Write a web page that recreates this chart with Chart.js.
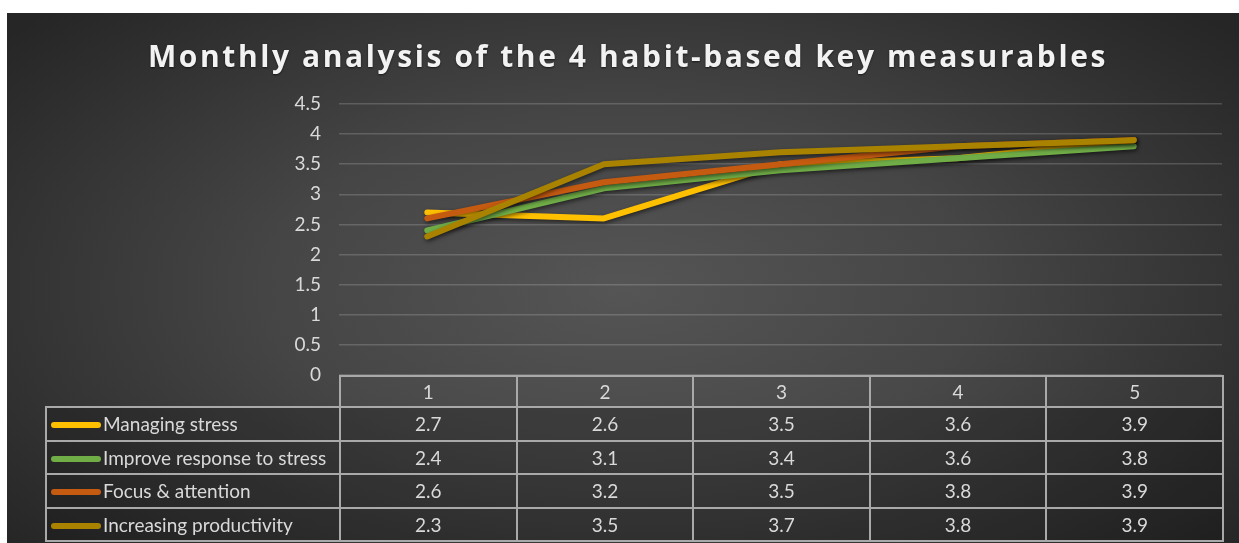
<!DOCTYPE html>
<html>
<head>
<meta charset="utf-8">
<script src="https://cdn.jsdelivr.net/npm/chart.js@4"></script>
<style>
  html, body { margin: 0; padding: 0; background: #ffffff; }
  #page { position: relative; width: 1239px; height: 543px; overflow: hidden; background: #ffffff; }
  #panel {
    position: absolute; left: 7px; top: 13px; width: 1232px; height: 530px;
    background: radial-gradient(ellipse 65% 75% at 50% 52%, #555555 0%, #454545 45%, #2e2e2e 85%, #262626 100%);
  }
  #title {
    position: absolute; left: 0; top: 22px; width: 1242px; text-align: center;
    font-family: "Open Sans", Lato, sans-serif; font-weight: 700; font-size: 30px;
    letter-spacing: 2.6px; color: #f2f2f2; text-shadow: 0 1px 2px rgba(0,0,0,0.6);
  }
  #chart { position: absolute; left: 0; top: 0; }
  #dataTable {
    position: absolute; border-collapse: collapse; table-layout: fixed;
    font-family: Lato, "Open Sans", sans-serif; font-size: 19px; color: #d9d9d9;
  }
  #dataTable td { border: 2px solid #a9a9a9; text-align: center; padding: 0; white-space: nowrap; background: rgba(0,0,0,0.18); }
  #dataTable tr.head td { background: rgba(255,255,255,0.02); }
  #dataTable tr.head td.corner { border: none; background: transparent; }
  #dataTable td.name { text-align: left; padding-left: 4px; }
  .swatch { display: inline-block; width: 50px; height: 6px; border-radius: 3px; vertical-align: middle; margin-right: 2px; position: relative; top: -1px; }
</style>
</head>
<body>
<div id="page">
  <div id="panel">
    <canvas id="chart" width="1232" height="530"></canvas>
    <div id="title">Monthly analysis of the 4 habit-based key measurables</div>
    <table id="dataTable"></table>
  </div>
</div>
<script>
// categories (months) and series values
const months = ['1', '2', '3', '4', '5'];
const seriesNames = ['Managing stress', 'Improve response to stress', 'Focus & attention', 'Increasing productivity'];
const managingStress = [2.7, 2.6, 3.5, 3.6, 3.9];
const improveResponse = [2.4, 3.1, 3.4, 3.6, 3.8];
const focusAttention = [2.6, 3.2, 3.5, 3.8, 3.9];
const increasingProductivity = [2.3, 3.5, 3.7, 3.8, 3.9];
const seriesColors = ['#FFC000', '#70AD47', '#C55A11', '#A98300'];

const allValues = [managingStress, improveResponse, focusAttention, increasingProductivity];

// soft shadow under each line, like the office chart
const lineShadow = {
  id: 'lineShadow',
  beforeDatasetDraw(chart) {
    const ctx = chart.ctx;
    ctx.save();
    ctx.shadowColor = 'rgba(0,0,0,0.55)';
    ctx.shadowBlur = 4;
    ctx.shadowOffsetX = 1;
    ctx.shadowOffsetY = 2;
  },
  afterDatasetDraw(chart) {
    chart.ctx.restore();
  }
};

// build the data table under the plot, columns lined up with the x scale
function buildTable(chart) {
  const table = document.getElementById('dataTable');
  const area = chart.chartArea;
  const colW = (area.right - area.left) / months.length;
  const nameW = 294;
  table.style.left = (area.left - nameW) + 'px';
  table.style.top = area.bottom + 'px';
  table.style.width = (nameW + colW * months.length) + 'px';

  let html = '<colgroup><col style="width:' + nameW + 'px">';
  months.forEach(() => { html += '<col style="width:' + colW + 'px">'; });
  html += '</colgroup>';
  html += '<tr class="head" style="height:31px"><td class="corner"></td>';
  months.forEach(m => { html += '<td>' + m + '</td>'; });
  html += '</tr>';
  seriesNames.forEach((name, i) => {
    html += '<tr style="height:33.5px"><td class="name"><span class="swatch" style="background:' + seriesColors[i] + '"></span>' + name + '</td>';
    allValues[i].forEach(v => { html += '<td>' + v.toFixed(1) + '</td>'; });
    html += '</tr>';
  });
  table.innerHTML = html;
}

const tablePlugin = {
  id: 'tablePlugin',
  afterRender(chart) {
    if (!chart._tableBuilt) {
      chart._tableBuilt = true;
      buildTable(chart);
    }
  }
};

const ctx = document.getElementById('chart').getContext('2d');
const chart = new Chart(ctx, {
  type: 'line',
  data: {
    labels: months,
    datasets: seriesNames.map((name, i) => ({
      label: name,
      data: allValues[i],
      borderColor: seriesColors[i],
      backgroundColor: seriesColors[i],
      borderWidth: 6,
      pointRadius: 0,
      tension: 0,
      fill: false,
      borderCapStyle: 'round',
      borderJoinStyle: 'round',
      order: seriesNames.length - i
    }))
  },
  options: {
    responsive: false,
    animation: false,
    layout: { padding: { top: 91, right: 17, bottom: 168, left: 0 } },
    scales: {
      x: {
        type: 'category',
        offset: true,
        display: false
      },
      y: {
        min: 0,
        max: 4.5,
        ticks: {
          stepSize: 0.5,
          color: '#d9d9d9',
          padding: 18,
          font: { family: 'Lato, "Open Sans", sans-serif', size: 19 },
          callback: value => String(value)
        },
        grid: {
          color: 'rgba(255,255,255,0.17)',
          lineWidth: 1.5,
          drawTicks: false
        },
        border: { display: false },
        afterFit(scale) { scale.width = 332; }
      }
    },
    plugins: {
      legend: { display: false },
      title: { display: false },
      tooltip: { enabled: false }
    }
  },
  plugins: [lineShadow, tablePlugin]
});
</script>
</body>
</html>
